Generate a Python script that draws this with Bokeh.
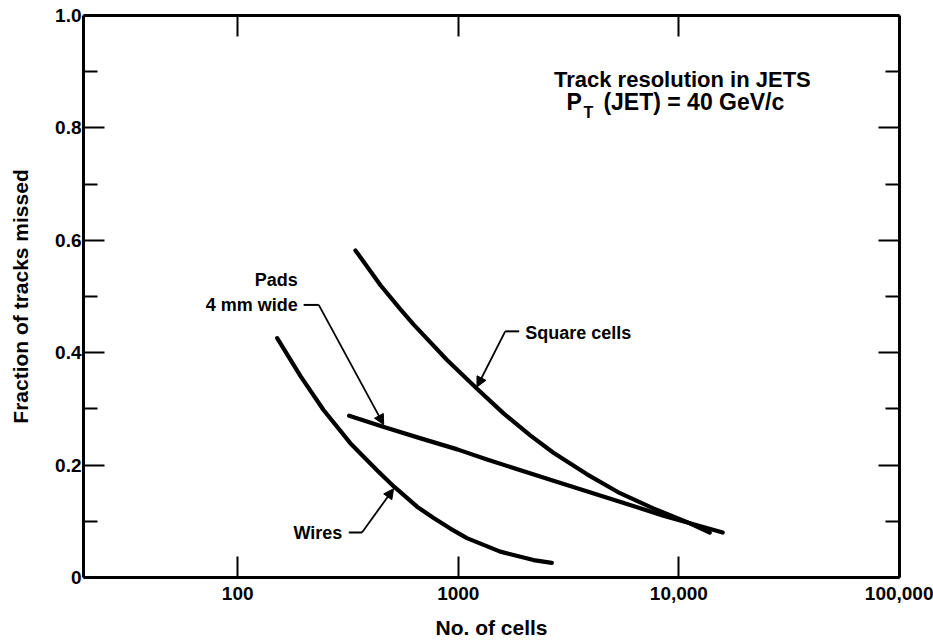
from bokeh.plotting import figure
from bokeh.models import (Range1d, LogAxis, LinearAxis, FixedTicker, CustomJSTickFormatter,
                          Label, Arrow, NormalHead)
from bokeh.embed import file_html
from bokeh.resources import INLINE

# ---------------- data ----------------
x_ticks = [100, 1000, 10000, 100000]
x_tick_labels = ["100", "1000", "10,000", "100,000"]
y_ticks = [0.0, 0.2, 0.4, 0.6, 0.8, 1.0]
y_minor_ticks = [0.1, 0.3, 0.5, 0.7, 0.9]
y_tick_labels = ["0", "0.2", "0.4", "0.6", "0.8", "1.0"]

wires_cells = [151, 193, 245, 324, 428, 510, 650, 773, 920, 1094, 1549, 2193, 2654]
wires_missed = [0.426, 0.358, 0.298, 0.239, 0.191, 0.162, 0.126, 0.106, 0.087, 0.070, 0.046, 0.031, 0.026]

square_cells = [342, 444, 547, 628, 889, 1216, 1604, 2119, 2699, 3818, 5408, 7653, 10840, 13800]
square_missed = [0.582, 0.520, 0.477, 0.450, 0.387, 0.336, 0.292, 0.253, 0.222, 0.184, 0.150, 0.123, 0.099, 0.080]

pads_cells = [320, 460, 670, 990, 1350, 2700, 5400, 8500, 15800]
pads_missed = [0.288, 0.268, 0.248, 0.228, 0.210, 0.172, 0.135, 0.110, 0.080]

# annotation anchors (data units)
pads_leader_x = [199, 233]
pads_leader_y = [0.485, 0.485]
pads_tip = (459, 0.272)
square_leader_x = [1888, 1632]
square_leader_y = [0.438, 0.438]
square_tip = (1215, 0.339)
wires_leader_x = [319, 366]
wires_leader_y = [0.080, 0.080]
wires_tip = (509, 0.158)

FONT = "Liberation Sans"

p = figure(width=933, height=641, x_axis_type="log",
           x_range=Range1d(20, 100000), y_range=Range1d(0, 1.0),
           output_backend="svg", toolbar_location=None,
           min_border_left=83, min_border_right=34, min_border_top=15, min_border_bottom=64)
p.grid.visible = False
p.outline_line_color = None
p.background_fill_color = "white"
p.border_fill_color = "white"


def style_axis(ax):
    ax.axis_line_width = 3
    ax.axis_line_color = "black"
    ax.major_tick_in = 21
    ax.major_tick_out = 0
    ax.minor_tick_in = 14
    ax.minor_tick_out = 0
    ax.major_tick_line_width = 2
    ax.minor_tick_line_width = 2
    ax.major_tick_line_color = "black"
    ax.minor_tick_line_color = "black"
    ax.major_label_text_font = FONT
    ax.major_label_text_font_style = "bold"
    ax.major_label_text_font_size = "19px"
    ax.major_label_text_color = "black"
    ax.axis_label_text_font = FONT
    ax.axis_label_text_font_style = "bold"
    ax.axis_label_text_font_size = "21px"
    ax.axis_label_text_color = "black"


# bottom axis
xa = p.xaxis[0]
xa.ticker = FixedTicker(ticks=x_ticks, minor_ticks=[])
xa.major_label_overrides = dict(zip(x_ticks, x_tick_labels))
style_axis(xa)
xa.axis_label = "No. of cells"
xa.major_label_standoff = 9
xa.axis_label_standoff = 13

# left axis
ya = p.yaxis[0]
ya.ticker = FixedTicker(ticks=y_ticks, minor_ticks=y_minor_ticks)
ya.major_label_overrides = dict(zip(y_ticks, y_tick_labels))
style_axis(ya)
ya.axis_label = "Fraction of tracks missed"
ya.major_label_standoff = 2
ya.axis_label_standoff = 20

blank = CustomJSTickFormatter(code="return ''")

# top axis (ticks only)
top = LogAxis(ticker=FixedTicker(ticks=x_ticks[:-1], minor_ticks=[]), formatter=blank)
style_axis(top)
top.major_label_text_font_size = "0px"
top.major_label_standoff = 0
p.add_layout(top, "above")

# right axis (ticks only)
right = LinearAxis(ticker=FixedTicker(ticks=y_ticks, minor_ticks=y_minor_ticks), formatter=blank)
style_axis(right)
right.major_label_text_font_size = "0px"
right.major_label_standoff = 0
p.add_layout(right, "right")

# curves
for xs, ys in [(wires_cells, wires_missed), (square_cells, square_missed), (pads_cells, pads_missed)]:
    p.line(xs, ys, line_width=4.2, line_color="black", line_cap="round", line_join="round")

# leaders + arrows
for lx, ly, tip in [(pads_leader_x, pads_leader_y, pads_tip),
                    (square_leader_x, square_leader_y, square_tip),
                    (wires_leader_x, wires_leader_y, wires_tip)]:
    p.line(lx, ly, line_width=2, line_color="black")
    p.add_layout(Arrow(end=NormalHead(size=10, fill_color="black", line_color="black", line_width=1),
                       x_start=lx[-1], y_start=ly[-1], x_end=tip[0], y_end=tip[1],
                       line_width=1.8, line_color="black"))


def add_label(text, x, y, align, size, x_offset=0):
    p.add_layout(Label(x=x, y=y, text=text, text_align=align, text_baseline="alphabetic",
                       text_font=FONT, text_font_style="bold", text_font_size=size,
                       text_color="black", x_offset=x_offset))


add_label("Pads", 187, 0.530, "right", "18px")
add_label("4 mm wide", 187, 0.4855, "right", "18px")
add_label("Square cells", 2009, 0.4355, "left", "18px")
add_label("Wires", 298, 0.0785, "right", "18px")

# header text
add_label("Track resolution in JETS", 10370, 0.886, "center", "22px")
add_label("P", 10370, 0.8455, "left", "23px", x_offset=-116)
add_label("T", 10370, 0.8275, "left", "16px", x_offset=-99)
add_label("(JET) = 40 GeV/c", 10370, 0.8455, "left", "23px", x_offset=-79)

open("out.html", "w").write(file_html(p, INLINE))
